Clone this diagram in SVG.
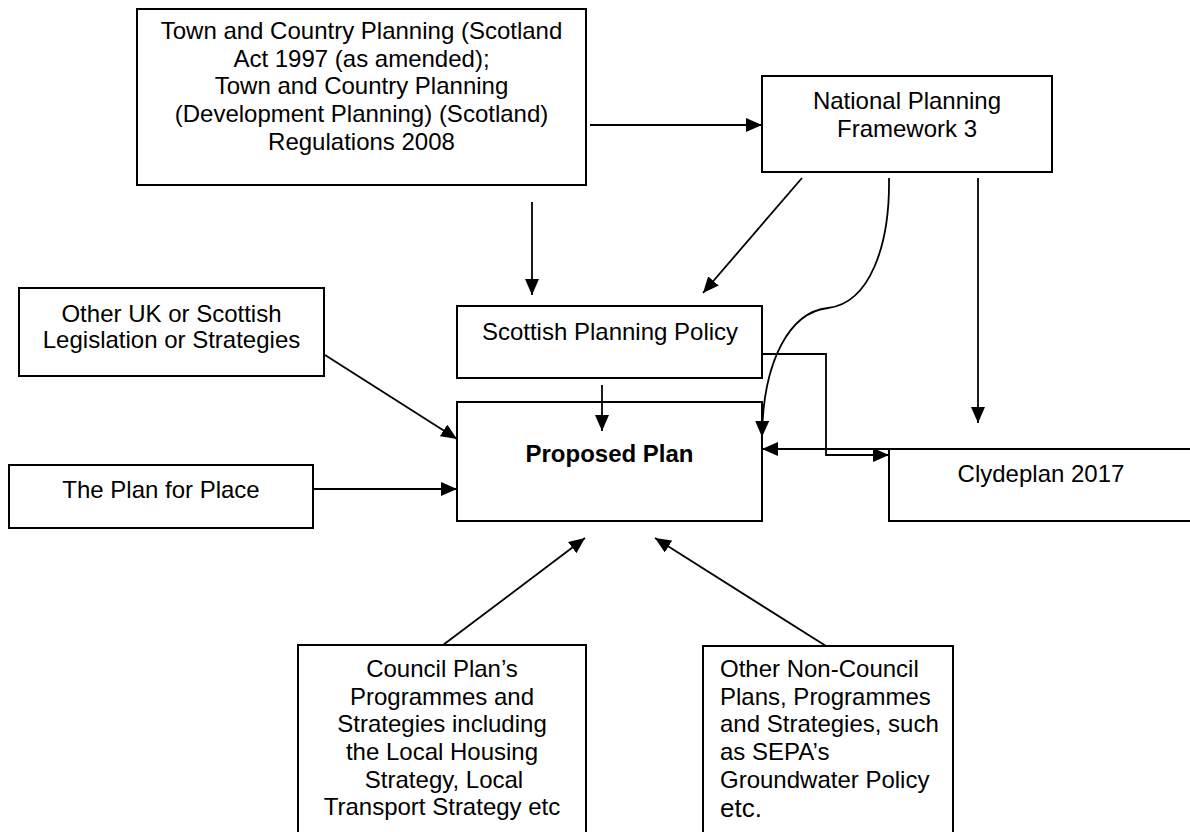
<svg xmlns="http://www.w3.org/2000/svg" width="1190" height="832" viewBox="0 0 1190 832">
  <defs>
    <marker id="arrow" markerUnits="userSpaceOnUse" markerWidth="16" markerHeight="14" refX="16" refY="7" orient="auto">
      <path d="M0,0 L16,7 L0,14 z" fill="#000"/>
    </marker>
    <style>
      .box { fill: #fff; stroke: #000; stroke-width: 2; }
      .open { fill: none; stroke: #000; stroke-width: 2; }
      .lbl { font-family: "Liberation Sans", Arial, sans-serif; font-size: 24px; fill: #000; text-anchor: middle; }
      .left { text-anchor: start; }
      .bold { font-weight: bold; }
      .big { font-size: 26px; }
      .conn { fill: none; stroke: #000; stroke-width: 1.8; marker-end: url(#arrow); }
    </style>
  </defs>
  <rect width="1190" height="832" fill="#fff"/>

  <g id="legislation">
    <rect class="box" x="137" y="9" width="449" height="176"/>
    <text class="lbl" x="361.5" y="39">Town and Country Planning (Scotland</text>
    <text class="lbl" x="361.5" y="67">Act 1997 (as amended);</text>
    <text class="lbl" x="361.5" y="94">Town and Country Planning</text>
    <text class="lbl" x="361.5" y="122">(Development Planning) (Scotland)</text>
    <text class="lbl" x="361.5" y="150">Regulations 2008</text>
  </g>

  <g id="npf3">
    <rect class="box" x="762" y="76" width="290" height="96"/>
    <text class="lbl" x="907" y="109">National Planning</text>
    <text class="lbl" x="907" y="137">Framework 3</text>
  </g>

  <g id="other-uk">
    <rect class="box" x="19" y="288" width="305" height="88"/>
    <text class="lbl" x="171.5" y="322">Other UK or Scottish</text>
    <text class="lbl" x="171.5" y="348">Legislation or Strategies</text>
  </g>

  <g id="plan-for-place">
    <rect class="box" x="9" y="465" width="304" height="63"/>
    <text class="lbl" x="161" y="498">The Plan for Place</text>
  </g>

  <g id="spp">
    <rect class="box" x="457" y="306" width="305" height="72"/>
    <text class="lbl" x="610" y="340">Scottish Planning Policy</text>
  </g>

  <g id="proposed-plan">
    <rect class="box" x="457" y="402" width="305" height="119"/>
    <text class="lbl bold" x="609.5" y="462">Proposed Plan</text>
  </g>

  <g id="clydeplan">
    <path class="open" d="M1192,449 H889 V521 H1192"/>
    <text class="lbl" x="1041" y="482">Clydeplan 2017</text>
  </g>

  <g id="council-plans">
    <path class="open" d="M298,840 V645 H586 V840"/>
    <text class="lbl" x="442" y="677">Council Plan’s</text>
    <text class="lbl" x="442" y="705">Programmes and</text>
    <text class="lbl" x="442" y="732">Strategies including</text>
    <text class="lbl" x="442" y="760">the Local Housing</text>
    <text class="lbl" x="444" y="788">Strategy, Local</text>
    <text class="lbl" x="442" y="815">Transport Strategy etc</text>
  </g>

  <g id="non-council-plans">
    <path class="open" d="M703,840 V646 H953 V840"/>
    <text class="lbl left" x="720" y="677">Other Non-Council</text>
    <text class="lbl left" x="720" y="705">Plans, Programmes</text>
    <text class="lbl left" x="720" y="732">and Strategies, such</text>
    <text class="lbl left" x="720" y="760">as SEPA’s</text>
    <text class="lbl left" x="720" y="788">Groundwater Policy</text>
    <text class="lbl left big" x="720" y="817">etc.</text>
  </g>

  <!-- connectors drawn over the boxes so arrowheads inside a box stay visible -->
  <g id="connectors">
    <path class="conn" d="M590,125 H762"/>
    <path class="conn" d="M532,202 V295"/>
    <path class="conn" d="M802,178 L703,293"/>
    <path class="conn" d="M889,178 C890,245 870,303 828,308 C790,312 763,360 762,437"/>
    <path class="conn" d="M978,178 V423"/>
    <path class="conn" d="M602,385 V431"/>
    <path class="conn" d="M762,354 H826 V455 H889"/>
    <path class="conn" d="M889,449 H762"/>
    <path class="conn" d="M325,355 L457,439"/>
    <path class="conn" d="M313,489 H457"/>
    <path class="conn" d="M443,645 L585,538"/>
    <path class="conn" d="M826,646 L655,538"/>
  </g>
</svg>
